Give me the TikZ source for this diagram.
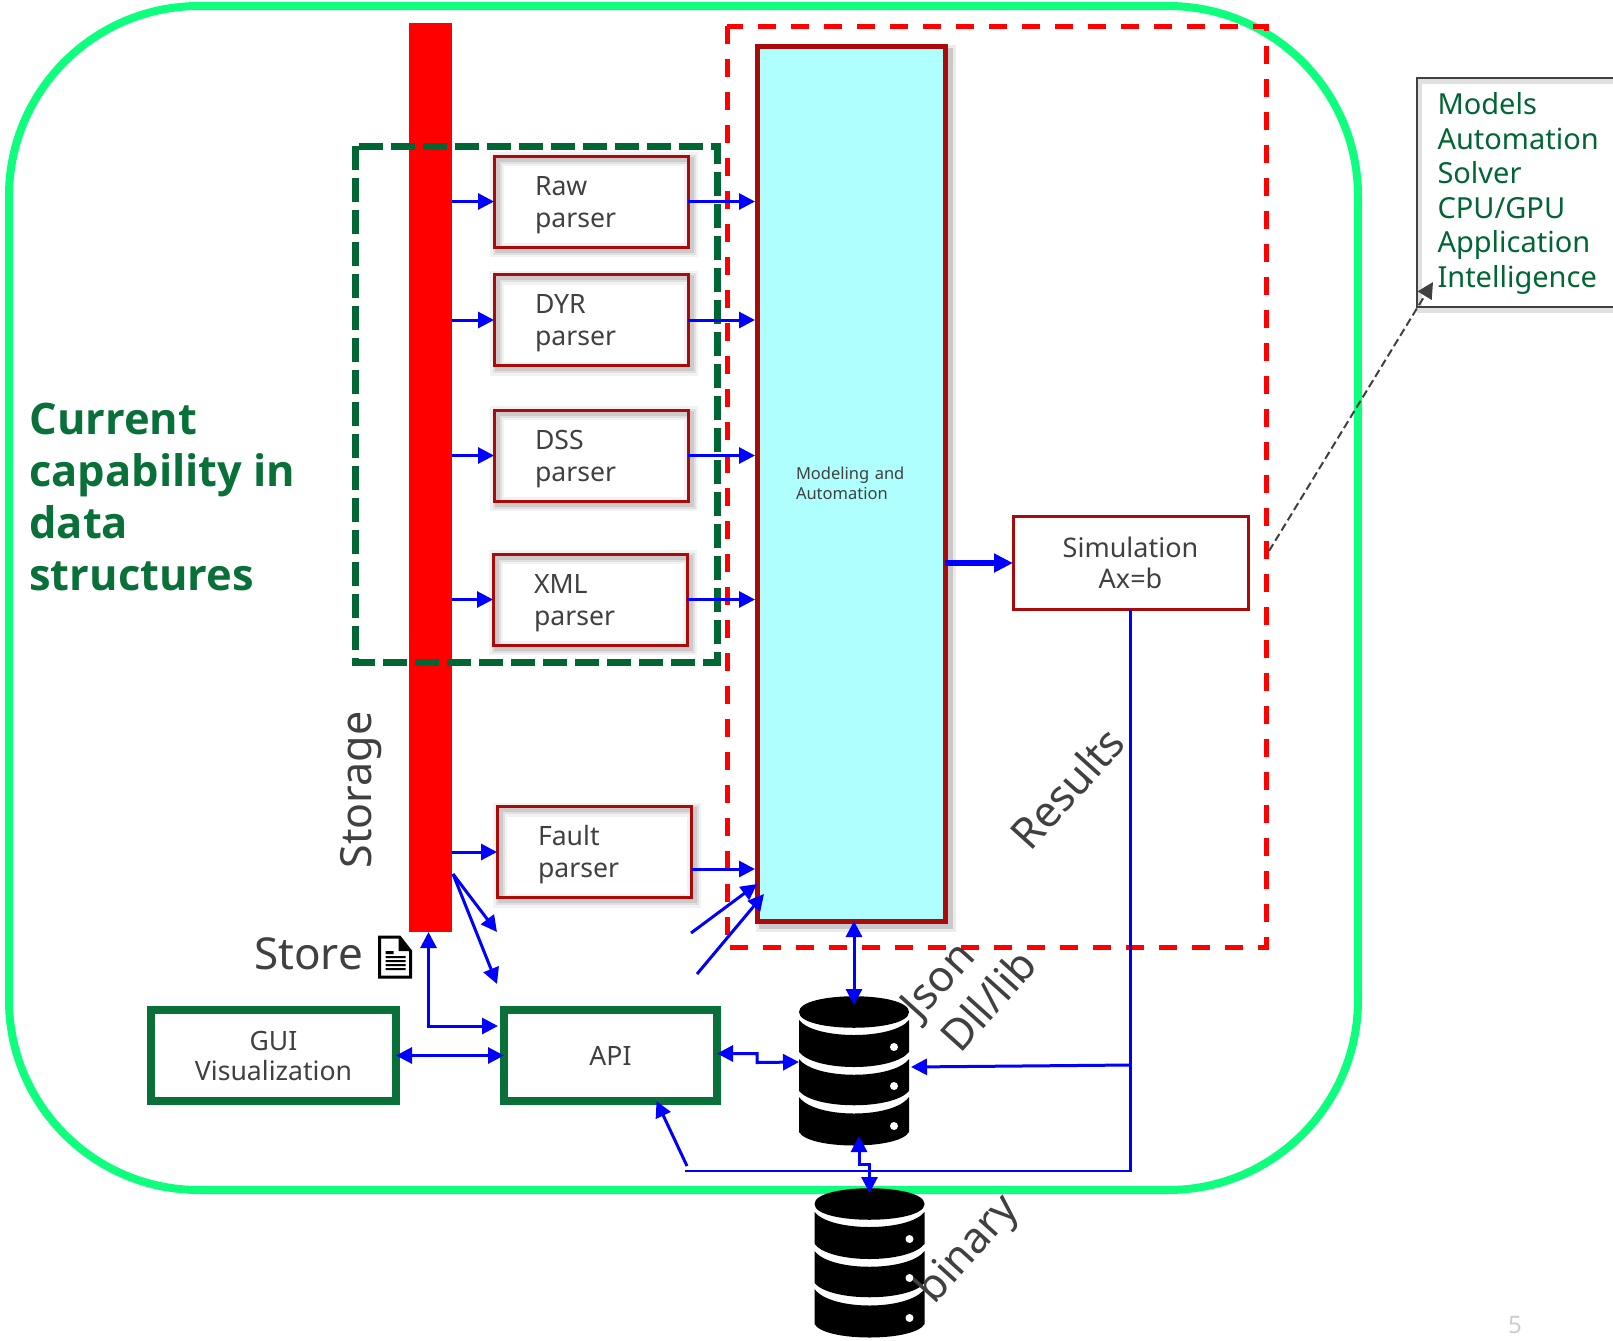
\documentclass[tikz,border=0pt]{standalone}
\usepackage{fontspec}
\setmainfont{Noto Sans}
\newfontfamily\headfont{Open Sans}
\usetikzlibrary{arrows.meta,positioning}
\definecolor{framegreen}{RGB}{14,255,125}
\definecolor{deepgreen}{RGB}{0,102,51}
\definecolor{solidgreen}{RGB}{10,112,58}
\definecolor{boxred}{RGB}{170,10,10}
\definecolor{modelcyan}{RGB}{176,255,255}
\definecolor{flowblue}{RGB}{0,0,255}
\definecolor{inkgray}{RGB}{64,64,64}
\definecolor{pagegray}{RGB}{205,205,205}
\tikzset{
  softline/.style={
    preaction={draw=black,draw opacity=.05,line width=7pt,transform canvas={shift={(1.5pt,-1.5pt)}}},
    preaction={draw=black,draw opacity=.07,line width=4.5pt,transform canvas={shift={(1.5pt,-1.5pt)}}},
    preaction={draw=black,draw opacity=.09,line width=2.5pt,transform canvas={shift={(1.5pt,-1.5pt)}}}},
  parserbox/.style={softline,draw=boxred,line width=1.5pt,outer sep=0pt,minimum width=97pt,minimum height=45.5pt,
    text width=56pt,inner xsep=20.5pt,inner ysep=0pt,align=left,text=inkgray,font=\fontsize{13.3}{16}\selectfont,
    text height=12pt,text depth=18.5pt},
  greenbox/.style={draw=solidgreen,line width=3.7pt,outer sep=0pt,minimum height=45.5pt,align=center,text=inkgray,
    font=\fontsize{13.3}{15}\selectfont},
  flowline/.style={draw=flowblue,line width=1.5pt,-{Triangle[length=8pt,width=8pt]}},
  flowboth/.style={draw=flowblue,line width=1.5pt,{Triangle[length=8pt,width=8pt]}-{Triangle[length=8pt,width=8pt]}},
  tilted/.style={text=inkgray,font=\fontsize{21.5}{24}\selectfont},
  dbslab/.pic={
    \fill[black] (0,16) .. controls (0,-5) and (110,-5) .. (110,16) .. controls (110,37) and (0,37) .. (0,16) -- cycle;
    \fill[black] (0,24) .. controls (16,44) and (94,44) .. (110,24) -- (110,56) .. controls (94,76) and (16,76) .. (0,56) -- cycle;
    \fill[black] (0,63) .. controls (16,84) and (94,84) .. (110,63) -- (110,95) .. controls (94,114) and (16,114) .. (0,95) -- cycle;
    \fill[black] (0,101) .. controls (16,123) and (94,123) .. (110,101) -- (110,136) .. controls (100,154) and (10,154) .. (0,136) -- cycle;
    \fill[white] (95,51) circle (2pt) (95,90) circle (2pt) (95,130) circle (2pt);
  },
  docsheet/.pic={
    \draw[black,line width=1.5pt,fill=white] (0,0) -- (20,0) -- (31,14) -- (31,40) -- (0,40) -- cycle;
    \fill[black] (19,1) -- (30,14) -- (19,14) -- cycle;
    \fill[black] (6,14) rectangle (14,17) (6,19) rectangle (26,21) (6,23) rectangle (26,25) (6,27) rectangle (26,29) (6,31) rectangle (26,33);
  }
}
\begin{document}
\begin{tikzpicture}[x=0.5pt,y=-0.5pt]
  \useasboundingbox (0,0) rectangle (1613,1340);
  \clip (0,0) rectangle (1613,1340);
  \fill[white] (0,0) rectangle (1613,1340);
  \draw[framegreen,line width=4pt,rounded corners=95pt] (9,6) rectangle (1358,1190);
  \node[fill=red,outer sep=0pt,inner sep=0pt,minimum width=21.5pt,minimum height=454.5pt] (storagebar) at (430.5,477.5) {};
  \draw[red,line width=2.5pt,dash pattern=on 9pt off 7.5pt] (727,26) rectangle (1266,947);
  \draw[deepgreen,line width=3.5pt,dash pattern=on 12pt off 4pt] (355,146) rectangle (717,662);
  \node[draw=boxred,fill=modelcyan,line width=2.5pt,outer sep=0pt,minimum width=94pt,minimum height=437.5pt,
    preaction={draw=black,draw opacity=.08,line width=6pt,transform canvas={shift={(2.5pt,-2.5pt)}}},
    preaction={draw=black,draw opacity=.14,line width=3pt,transform canvas={shift={(2.5pt,-2.5pt)}}},
    text width=55pt,inner xsep=19.5pt,align=left,text=inkgray,font=\fontsize{8.25}{10}\selectfont] (modelbox) at (851,483.5) {Modeling and\\Automation};
  \node[parserbox] (rawparser) at (591,201.5) {Raw\\parser};
  \node[parserbox] (dyrparser) at (591,320) {DYR\\parser};
  \node[parserbox] (dssparser) at (591,455.5) {DSS\\parser};
  \node[parserbox] (xmlparser) at (590,599.5) {XML\\parser};
  \node[parserbox] (faultparser) at (594,852) {Fault\\parser};
  \node[draw=boxred,line width=1.5pt,outer sep=0pt,minimum width=117.5pt,minimum height=46.5pt,align=center,
    text=inkgray,font=\fontsize{13.5}{15.5}\selectfont] (simbox) at (1130.5,563) {Simulation\\Ax=b};
  \node[greenbox,minimum width=122.5pt] (guibox) at (273.5,1055.5) {GUI\\Visualization};
  \node[greenbox,minimum width=106.5pt] (apibox) at (610.5,1055.5) {API};
  \node[inner sep=0pt,outer sep=0pt,minimum width=55pt,minimum height=74.5pt] (jsondb) at (854,1070.5) {};
  \node[inner sep=0pt,outer sep=0pt,minimum width=55pt,minimum height=75pt] (binarydb) at (869.5,1263) {};
  \pic at (jsondb.north west) {dbslab};
  \pic at (binarydb.north west) {dbslab};
  \node[inner sep=0pt,outer sep=0pt,minimum width=15.5pt,minimum height=20pt] (storedoc) at (395,957) {};
  \pic at (storedoc.north west) {docsheet};
  \node[left=8pt of storedoc,yshift=1.5pt,inner sep=0pt,text=inkgray,font=\fontsize{22}{25}\selectfont] (storelabel) {Store};
  \node[draw=inkgray,line width=1.2pt,outer sep=0pt,
    preaction={draw=black,draw opacity=.12,line width=2.5pt,transform canvas={shift={(1pt,-1.5pt)}}},
    minimum width=111.5pt,minimum height=114.5pt,text width=91pt,inner xsep=10pt,inner ysep=0pt,align=left,
    text=deepgreen,font=\fontsize{14.5}{17.3}\selectfont,text height=12pt] (notebox) at (1528.5,192.5) {Models\\Automation\\Solver\\CPU/GPU\\Application\\Intelligence};
  \node[anchor=west,inner sep=0pt,align=left,text=solidgreen,font=\headfont\fontsize{21.7}{26}\selectfont\bfseries] (titlelabel) at (29,497) {Current\\capability in\\data\\structures};
  \node[tilted,rotate=90] (storagelabel) at (361,790) {Storage};
  \node[tilted,rotate=48] (resultslabel) at (1067,788) {Results};
  \node[tilted,rotate=48] (jsonlabel) at (940,982) {Json};
  \node[tilted,rotate=48] (dlllabel) at (988,1000) {Dll/lib};
  \node[tilted,rotate=48] (binarylabel) at (969,1250) {binary};
  \node[text=pagegray,font=\fontsize{12}{14}\selectfont,inner sep=0pt] (pagelabel) at (1515,1325) {5};
  \coordinate (busa) at (simbox.south |- 0,1065);
  \coordinate (busb) at (simbox.south |- 0,1171);
  \coordinate (apitap) at (685,1171);
  \coordinate (apifoot) at (687,1166);
  \coordinate (spura) at (453,874);
  \coordinate (spurb) at (497,932);
  \coordinate (spurc) at (497,984);
  \coordinate (spurd) at (691,933);
  \coordinate (spure) at (697,974);
  \coordinate (resulttap) at (1269,551);
  \foreach \parser in {rawparser,dyrparser,dssparser,xmlparser,faultparser}{
    \draw[flowline] (storagebar.east |- \parser.west) -- (\parser.west);
  }
  \foreach \parser in {rawparser,dyrparser,dssparser,xmlparser}{
    \draw[flowline,shorten >=1pt] (\parser.east) -- (\parser.east -| modelbox.west);
  }
  \draw[flowline,shorten >=1pt] ([yshift=-8.5pt]faultparser.east) -- ([yshift=-8.5pt]faultparser.east -| modelbox.west);
  \draw[flowline] (spura) -- (spurb);
  \draw[flowline] (spura) -- (spurc);
  \draw[flowline] (spurd) -- ([yshift=18.5pt]modelbox.south west);
  \draw[flowline] (spure) -- ([xshift=3.5pt,yshift=13.5pt]modelbox.south west);
  \draw[flowboth] ([xshift=-1pt]storagebar.south) |- ([xshift=-3pt,yshift=14.75pt]apibox.west);
  \draw[flowboth] (guibox.east) -- (apibox.west);
  \draw[flowboth] ([yshift=1pt]apibox.east) -- ++(40,0) -- ++(0,9) -- ([yshift=4.25pt]jsondb.west);
  \draw[flowboth] (jsondb.north |- modelbox.south) -- ([yshift=-4.5pt]jsondb.north);
  \draw[flowboth] ([xshift=2.5pt,yshift=4.5pt]jsondb.south) -- ++(0,28) -- ++(10.5,0) -- ([yshift=-2.5pt]binarydb.north);
  \draw[flowblue,line width=1.3pt] (simbox.south) -- (busb) -- (apitap);
  \draw[flowline] (busa) -- ([xshift=1pt,yshift=1.75pt]jsondb.east);
  \draw[flowline] (apifoot) -- ([xshift=23pt]apibox.south);
  \draw[draw=flowblue,line width=2.6pt,-{Triangle[length=9.5pt,width=9pt]}] (modelbox.east |- simbox.west) -- (simbox.west);
  \draw[draw=inkgray,line width=1pt,dash pattern=on 4pt off 2pt,-{Triangle[length=8pt,width=8pt,fill=inkgray]}] (resulttap) -- ([xshift=8pt,yshift=12.5pt]notebox.south west);
\end{tikzpicture}
\end{document}
